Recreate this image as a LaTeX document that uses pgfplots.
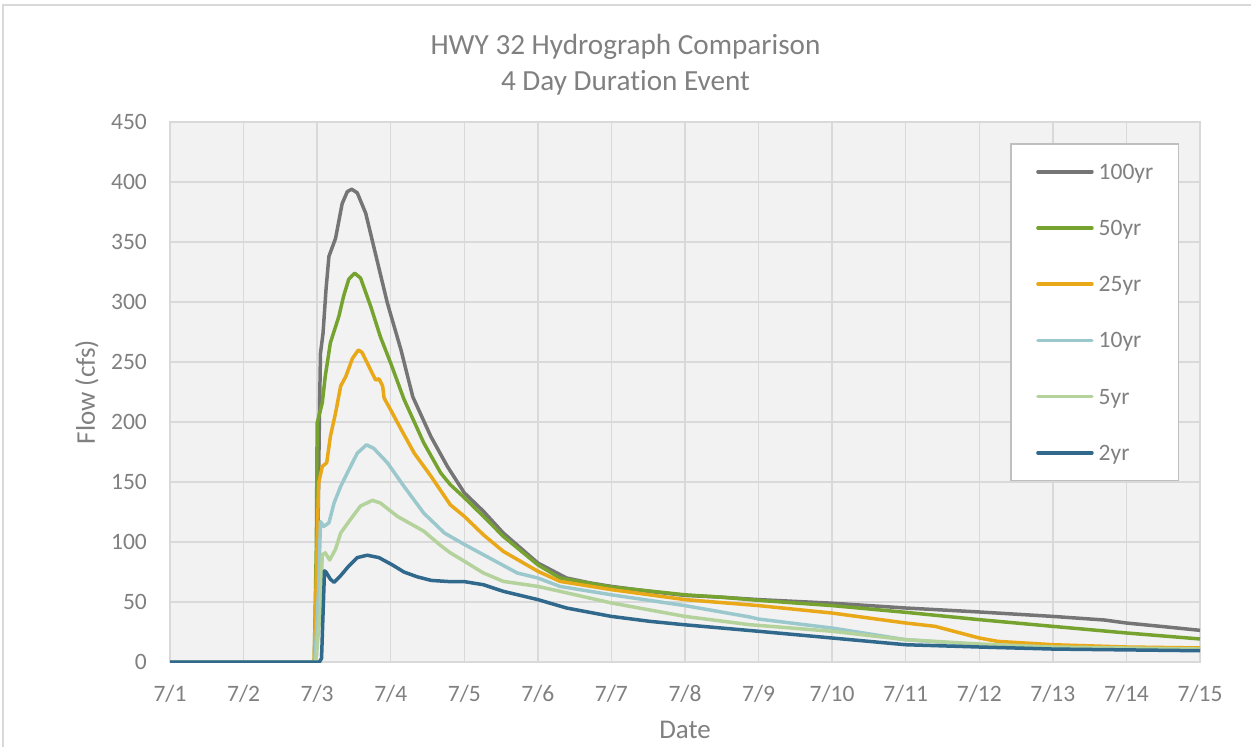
\documentclass[border=0pt]{standalone}
\usepackage{fontspec}
\setmainfont[RawFeature={-liga;-dlig;-clig}]{Carlito}
\usepackage{pgfplots}
\pgfplotsset{compat=1.18}
\definecolor{cA}{RGB}{117,117,117}
\definecolor{cB}{RGB}{118,163,47}
\definecolor{cC}{RGB}{233,168,23}
\definecolor{cD}{RGB}{155,200,205}
\definecolor{cE}{RGB}{180,210,155}
\definecolor{cF}{RGB}{48,105,140}
\definecolor{gridc}{RGB}{217,217,217}
\definecolor{bgc}{RGB}{242,242,242}
\definecolor{txtc}{RGB}{128,128,128}
\definecolor{legc}{RGB}{191,191,191}
\begin{document}
\begin{tikzpicture}
\useasboundingbox (-85pt,-42pt) rectangle (540.5pt,331pt);
\draw[gridc, line width=1pt] (-83.5pt,-60pt) -- (-83.5pt,328.5pt) -- (560pt,328.5pt);
\begin{axis}[
  at={(0pt,0pt)}, anchor=south west,
  width=515pt, height=270pt, scale only axis,
  xmin=0, xmax=14, ymin=0, ymax=450,
  xtick={0,1,...,14},
  xticklabels={7/1,7/2,7/3,7/4,7/5,7/6,7/7,7/8,7/9,7/10,7/11,7/12,7/13,7/14,7/15},
  ytick={0,50,...,450},
  grid=major,
  major grid style={draw=gridc, line width=0.75pt},
  axis line style={draw=gridc, line width=0.75pt},
  axis background/.style={fill=bgc},
  tick style={draw=none},
  /pgf/number format/assume math mode=true,
  ticklabel style={font=\fontsize{11.75}{14}\selectfont, text=txtc, inner sep=0pt},
  xticklabel style={anchor=base, yshift=-19.85pt},
  yticklabel style={anchor=east, xshift=-11.35pt},
  legend style={at={(rel axis cs:1,1)}, anchor=north east, xshift=-10.5pt, yshift=-10.7pt,
    draw=legc, line width=0.75pt, fill=white, inner xsep=12.5pt, inner ysep=10pt,
    row sep=20.5pt, column sep=2.5pt,
    font=\fontsize{11.75}{14}\selectfont, text=txtc,
    nodes={inner sep=0pt, text height=7.6pt, text depth=0pt}},
  legend cell align=left,
  legend image code/.code={\draw[#1, line width=1.75pt, line cap=round] (0pt,0pt) -- (27pt,0pt);},
  every axis plot/.append style={line width=1.75pt, line join=round, no marks},
]
\addplot[cA] coordinates {(0,0) (1.95,0) (1.99,5) (2.03,200) (2.045,257) (2.08,274) (2.12,310) (2.16,338) (2.25,353) (2.34,382) (2.41,392) (2.47,394) (2.545,391) (2.66,374) (2.77,346) (2.955,299) (3.14,260) (3.3,221) (3.545,188) (3.77,163) (4.0,141) (4.26,125.6) (4.53,107.5) (5.0,82.5) (5.39,70) (5.7,66) (6.0,63) (6.5,59) (7.0,55.5) (7.5,54) (8,52) (9,49) (10,45) (11,41.7) (12,38) (12.7,35) (13,32.5) (13.5,29.5) (14,26.4)};
\addlegendentry{100yr}
\addplot[cB] coordinates {(0,0) (1.96,0) (1.99,100) (2.0,199) (2.07,216) (2.11,238) (2.18,266) (2.295,288) (2.36,305) (2.43,319) (2.51,324) (2.59,320) (2.73,296) (2.86,271) (3.0,249) (3.18,219) (3.45,182.5) (3.68,157.5) (3.81,147.8) (4.0,137) (4.26,121.4) (4.53,104.7) (5.0,81) (5.3,70) (6.0,62.5) (7.0,56) (7.5,54) (8,51.4) (9,47) (10,41.4) (11,35.3) (12,29.7) (13,24.2) (14,19.2)};
\addlegendentry{50yr}
\addplot[cC] coordinates {(0,0) (1.96,0) (2.0,100) (2.02,149) (2.07,163) (2.13,166) (2.18,188) (2.25,207.5) (2.32,230) (2.39,238) (2.48,253) (2.56,260) (2.61,258) (2.73,243) (2.795,235) (2.84,236) (2.89,230) (2.91,220) (3.0,210) (3.14,194) (3.32,174) (3.545,155) (3.81,131) (4.0,121.4) (4.26,106) (4.53,92.2) (5.0,75.6) (5.3,67.2) (6.0,60.3) (7.0,52) (8,47) (9,40.8) (10,32.5) (10.4,29.7) (11,20) (11.25,17.2) (12,14.4) (13,12.5) (14,11.7)};
\addlegendentry{25yr}
\addplot[cD] coordinates {(0,0) (1.97,0) (2.02,60) (2.045,117) (2.09,113) (2.16,116) (2.23,132.5) (2.32,146.4) (2.43,160) (2.545,174) (2.67,181) (2.77,178) (2.955,166) (3.18,146.4) (3.45,124) (3.73,107.5) (4.0,98) (4.26,89.4) (4.72,74.2) (5.0,70) (5.3,63) (6.0,56) (7.0,47) (7.88,37.5) (8,35.8) (9,28.3) (10,18.6) (11,14.4) (12,11.7) (14,10.3)};
\addlegendentry{10yr}
\addplot[cE] coordinates {(0,0) (1.98,0) (2.04,40) (2.07,89.4) (2.11,91) (2.17,85) (2.25,94) (2.32,107.5) (2.45,118.6) (2.59,130) (2.75,134.7) (2.86,132.5) (3.09,121.4) (3.45,109) (3.68,97) (3.81,91) (4.0,84) (4.26,74.2) (4.53,67.2) (5.0,63) (5.3,58.9) (6.0,49.2) (7.0,38) (7.88,31.1) (9,25.6) (10,18.6) (11,15) (12,12.5) (14,10.8)};
\addlegendentry{5yr}
\addplot[cF] coordinates {(0,0) (2.03,0) (2.06,3) (2.08,40) (2.1,76) (2.12,75) (2.18,69) (2.23,66.4) (2.32,72) (2.43,80) (2.545,87) (2.68,89) (2.84,87) (3.02,81) (3.18,75) (3.36,71) (3.55,68) (3.8,67) (4.0,67) (4.26,64.4) (4.53,58.9) (5.0,52) (5.39,45) (6.0,38) (6.52,33.9) (7.0,31) (8,25.6) (9,20) (10,14.4) (11,12.5) (12,10.8) (14,9.4)};
\addlegendentry{2yr}
\end{axis}
\node[anchor=base, text=txtc, font=\fontsize{14.6}{17}\selectfont] at (227.75pt,303.8pt) {HWY 32 Hydrograph Comparison};
\node[anchor=base, text=txtc, font=\fontsize{14.6}{17}\selectfont] at (227.75pt,286pt) {4 Day Durat\kern0pt ion Event};
\node[anchor=base, text=txtc, font=\fontsize{13.5}{16}\selectfont] at (257.5pt,-38pt) {Date};
\node[anchor=base, rotate=90, text=txtc, font=\fontsize{13.5}{16}\selectfont] at (-37.5pt,135pt) {Flow (cfs)};
\end{tikzpicture}
\end{document}
